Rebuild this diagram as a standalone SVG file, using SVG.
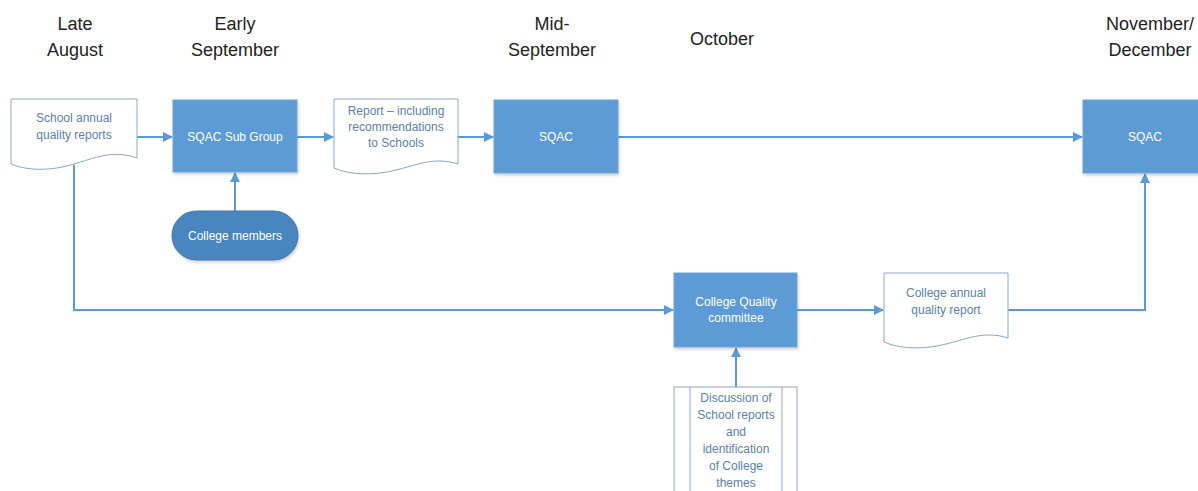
<svg xmlns="http://www.w3.org/2000/svg" width="1198" height="491" viewBox="0 0 1198 491">
<defs>
<style>
.hdr{font-family:"Liberation Sans",Arial,sans-serif;font-size:18px;fill:#222;text-anchor:middle}
.wt{font-family:"Liberation Sans",Arial,sans-serif;font-size:12px;fill:#fff;text-anchor:middle}
.dt{font-family:"Liberation Sans",Arial,sans-serif;font-size:12px;fill:#5b7fae;text-anchor:middle}
.box{fill:#5b9bd5;stroke:#6fa6d8;stroke-width:1}
.doc{fill:#fff;stroke:#8aa6c8;stroke-width:1}
.con{fill:none;stroke:#5b9bd5;stroke-width:2}
</style>
<marker id="ah" markerWidth="10" markerHeight="10" refX="9" refY="5" orient="auto" markerUnits="userSpaceOnUse">
<path d="M0,0 L10,5 L0,10 Z" fill="#5b9bd5"/>
</marker>
<filter id="sh" x="-10%" y="-10%" width="130%" height="130%">
<feDropShadow dx="1" dy="2" stdDeviation="1.5" flood-color="#000" flood-opacity="0.18"/>
</filter>
</defs>
<rect width="1198" height="491" fill="#fff"/>
<g id="headers">
<text class="hdr" x="75" y="30">Late</text>
<text class="hdr" x="75" y="56">August</text>
<text class="hdr" x="235" y="30">Early</text>
<text class="hdr" x="235" y="56">September</text>
<text class="hdr" x="552" y="30">Mid-</text>
<text class="hdr" x="552" y="56">September</text>
<text class="hdr" x="722" y="45">October</text>
<text class="hdr" x="1150" y="30">November/</text>
<text class="hdr" x="1150" y="56">December</text>
</g>
<g id="connectors">
<line class="con" x1="137" y1="137" x2="172" y2="137" marker-end="url(#ah)"/>
<line class="con" x1="297" y1="137" x2="333" y2="137" marker-end="url(#ah)"/>
<line class="con" x1="458" y1="137" x2="493" y2="137" marker-end="url(#ah)"/>
<line class="con" x1="618" y1="137" x2="1082" y2="137" marker-end="url(#ah)"/>
<line class="con" x1="235" y1="211" x2="235" y2="173" marker-end="url(#ah)"/>
<polyline class="con" points="74,165 74,310 673,310" marker-end="url(#ah)"/>
<line class="con" x1="797" y1="310" x2="883" y2="310" marker-end="url(#ah)"/>
<polyline class="con" points="1008,310 1145,310 1145,174" marker-end="url(#ah)"/>
<line class="con" x1="736" y1="387" x2="736" y2="348" marker-end="url(#ah)"/>
</g>
<g id="school-reports">
<path class="doc" d="M11,99 H137 V158 C112,149 92,159 74,164 C55,170 30,172 11,164 Z"/>
<text class="dt" x="74" y="122">School annual</text>
<text class="dt" x="74" y="139">quality reports</text>
</g>
<g id="sqac-sub-group">
<rect class="box" x="173" y="100" width="124" height="72" filter="url(#sh)"/>
<text class="wt" x="235" y="141">SQAC Sub Group</text>
</g>
<g id="college-members">
<rect x="172" y="211" width="126" height="49" rx="24.5" fill="#4a86c0" stroke="#3f76aa" filter="url(#sh)"/>
<text class="wt" x="235" y="240">College members</text>
</g>
<g id="report-doc">
<path class="doc" d="M334,99 H458 V164 C434,156 414,166 396,170 C377,175 352,176 334,168 Z"/>
<text class="dt" x="396" y="115">Report – including</text>
<text class="dt" x="396" y="131">recommendations</text>
<text class="dt" x="396" y="147">to Schools</text>
</g>
<g id="sqac-mid">
<rect class="box" x="494" y="100" width="124" height="73" filter="url(#sh)"/>
<text class="wt" x="556" y="141">SQAC</text>
</g>
<g id="sqac-final">
<rect class="box" x="1083" y="100" width="124" height="73" filter="url(#sh)"/>
<text class="wt" x="1145" y="141">SQAC</text>
</g>
<g id="college-quality-committee">
<rect class="box" x="674" y="273" width="123" height="74" filter="url(#sh)"/>
<text class="wt" x="736" y="306">College Quality</text>
<text class="wt" x="736" y="322">committee</text>
</g>
<g id="college-annual-report">
<path class="doc" d="M884,273 H1008 V338 C984,330 964,340 946,344 C927,349 902,350 884,342 Z"/>
<text class="dt" x="946" y="297">College annual</text>
<text class="dt" x="946" y="314">quality report</text>
</g>
<g id="discussion">
<rect class="doc" x="674" y="387" width="123" height="120"/>
<line x1="690" y1="387" x2="690" y2="491" stroke="#8aa6c8"/>
<line x1="782" y1="387" x2="782" y2="491" stroke="#8aa6c8"/>
<text class="dt" x="736" y="402">Discussion of</text>
<text class="dt" x="736" y="419">School reports</text>
<text class="dt" x="736" y="436">and</text>
<text class="dt" x="736" y="453">identification</text>
<text class="dt" x="736" y="470">of College</text>
<text class="dt" x="736" y="487">themes</text>
</g>
</svg>
